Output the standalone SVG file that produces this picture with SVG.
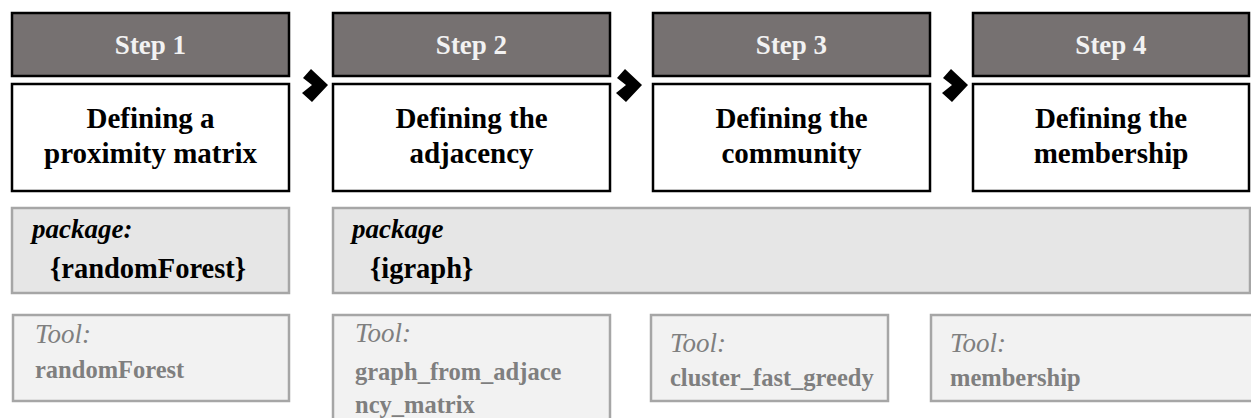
<svg xmlns="http://www.w3.org/2000/svg" width="1251" height="418" viewBox="0 0 1251 418">
  <style>
    .hdr { fill: #767171; stroke: #000; stroke-width: 2.5; }
    .body { fill: #fff; stroke: #000; stroke-width: 2.5; }
    .pkg { fill: #e6e6e6; stroke: #a6a6a6; stroke-width: 2.5; }
    .tool { fill: #f2f2f2; stroke: #a6a6a6; stroke-width: 2.5; }
    .step, .title, .pkgl, .pkgn, .tooll, .tooln { font-family: "Liberation Serif", "DejaVu Serif", "Times New Roman", serif; }
    .step { fill: #f2f2f2; font-weight: bold; font-size: 27px; text-anchor: middle; }
    .title { fill: #000; font-weight: bold; font-size: 29px; text-anchor: middle; }
    .pkgl { fill: #000; font-weight: bold; font-style: italic; font-size: 27px; }
    .pkgn { fill: #000; font-weight: bold; font-size: 28.5px; }
    .tooll { fill: #7f7f7f; font-style: italic; font-size: 27px; }
    .tooln { fill: #7f7f7f; font-weight: bold; font-size: 24.5px; }
    .chev { fill: #000; }
  </style>
  <defs>
    <path id="chevron" class="chev" d="M1,10 L9,1 L26,17 L10,34 L0,25 L10,17 Z"/>
  </defs>

  <!-- step 1 -->
  <g id="step1">
    <rect class="hdr" x="12" y="13" width="277" height="63"/>
    <text class="step" x="150.5" y="54">Step 1</text>
    <rect class="body" x="12" y="84" width="277" height="107"/>
    <text class="title" x="150.5" y="128">Defining a</text>
    <text class="title" x="150.5" y="163">proximity matrix</text>
  </g>

  <!-- step 2 -->
  <g id="step2">
    <rect class="hdr" x="333" y="13" width="277" height="63"/>
    <text class="step" x="471.5" y="54">Step 2</text>
    <rect class="body" x="333" y="84" width="277" height="107"/>
    <text class="title" x="471.5" y="128">Defining the</text>
    <text class="title" x="471.5" y="163">adjacency</text>
  </g>

  <!-- step 3 -->
  <g id="step3">
    <rect class="hdr" x="653" y="13" width="277" height="63"/>
    <text class="step" x="791.5" y="54">Step 3</text>
    <rect class="body" x="653" y="84" width="277" height="107"/>
    <text class="title" x="791.5" y="128">Defining the</text>
    <text class="title" x="791.5" y="163">community</text>
  </g>

  <!-- step 4 -->
  <g id="step4">
    <rect class="hdr" x="973" y="13" width="276" height="63"/>
    <text class="step" x="1111" y="54">Step 4</text>
    <rect class="body" x="973" y="84" width="276" height="107"/>
    <text class="title" x="1111" y="128">Defining the</text>
    <text class="title" x="1111" y="163">membership</text>
  </g>

  <!-- package boxes -->
  <g id="pkg-randomforest">
    <rect class="pkg" x="12" y="208" width="277" height="85"/>
    <text class="pkgl" x="32" y="238">package:</text>
    <text class="pkgn" x="50" y="278">{randomForest}</text>
  </g>
  <g id="pkg-igraph">
    <rect class="pkg" x="333" y="208" width="917" height="85"/>
    <text class="pkgl" x="352" y="238">package</text>
    <text class="pkgn" x="370" y="278">{igraph}</text>
  </g>

  <!-- tool boxes -->
  <g id="tool1">
    <rect class="tool" x="13" y="315" width="276" height="86"/>
    <text class="tooll" x="35" y="343">Tool:</text>
    <text class="tooln" x="35" y="378">randomForest</text>
  </g>
  <g id="tool2">
    <rect class="tool" x="333" y="315" width="277" height="110"/>
    <text class="tooll" x="355" y="342">Tool:</text>
    <text class="tooln" x="355" y="380">graph_from_adjace</text>
    <text class="tooln" x="355" y="413">ncy_matrix</text>
  </g>
  <g id="tool3">
    <rect class="tool" x="651" y="315" width="237" height="86"/>
    <text class="tooll" x="670" y="352">Tool:</text>
    <text class="tooln" x="670" y="386">cluster_fast_greedy</text>
  </g>
  <g id="tool4">
    <rect class="tool" x="931" y="315" width="330" height="86"/>
    <text class="tooll" x="950" y="352">Tool:</text>
    <text class="tooln" x="950" y="386">membership</text>
  </g>

  <!-- connectors between steps -->
  <g id="connectors">
    <use href="#chevron" x="302" y="68"/>
    <use href="#chevron" x="616" y="68"/>
    <use href="#chevron" x="942" y="68"/>
  </g>
</svg>
